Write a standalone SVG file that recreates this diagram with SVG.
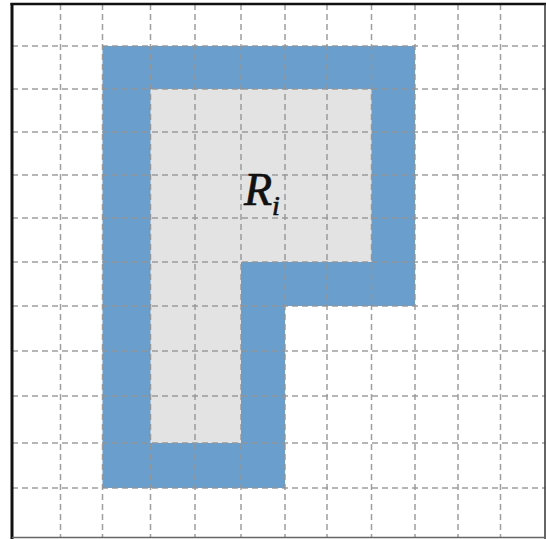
<svg xmlns="http://www.w3.org/2000/svg" width="546" height="539" viewBox="0 0 546 539">
<style>
.blue{fill:#6a9ecd}
.gray{fill:#e3e3e3}
.grid line{stroke:#959595;stroke-width:1.5;stroke-dasharray:6 4;opacity:0.9}
.lbl{font-family:"Liberation Serif","DejaVu Serif",serif;font-style:italic;fill:#111;stroke:#111;stroke-width:0.7}
</style>
<rect x="0" y="0" width="546" height="539" fill="#fff"/>
<g id="region">
<rect class="blue" x="102.5" y="46" width="312.5" height="442"/>
<rect class="gray" x="150.5" y="89" width="221" height="173"/>
<rect class="gray" x="150.5" y="262" width="90.5" height="181"/>
<rect fill="#fff" x="285" y="306" width="130.5" height="182.5"/>
<rect fill="#fff" x="415" y="46" width="131" height="493"/>
</g>
<g id="grid" class="grid">
<line x1="60.5" y1="4" x2="60.5" y2="537"/>
<line x1="102.5" y1="4" x2="102.5" y2="537"/>
<line x1="150.5" y1="4" x2="150.5" y2="537"/>
<line x1="195" y1="4" x2="195" y2="537"/>
<line x1="241" y1="4" x2="241" y2="537"/>
<line x1="285" y1="4" x2="285" y2="537"/>
<line x1="327" y1="4" x2="327" y2="537"/>
<line x1="371.5" y1="4" x2="371.5" y2="537"/>
<line x1="415" y1="4" x2="415" y2="537"/>
<line x1="458" y1="4" x2="458" y2="537"/>
<line x1="500.5" y1="4" x2="500.5" y2="537"/>
<line x1="12" y1="46" x2="545" y2="46"/>
<line x1="12" y1="89" x2="545" y2="89"/>
<line x1="12" y1="132" x2="545" y2="132"/>
<line x1="12" y1="175" x2="545" y2="175"/>
<line x1="12" y1="218" x2="545" y2="218"/>
<line x1="12" y1="262" x2="545" y2="262"/>
<line x1="12" y1="306" x2="545" y2="306"/>
<line x1="12" y1="351" x2="545" y2="351"/>
<line x1="12" y1="396" x2="545" y2="396"/>
<line x1="12" y1="443" x2="545" y2="443"/>
<line x1="12" y1="488" x2="545" y2="488"/>
</g>
<g id="frame">
<line x1="12" y1="3" x2="12" y2="539" stroke="#111" stroke-width="3"/>
<line x1="10.5" y1="4" x2="546" y2="4" stroke="#111" stroke-width="2.5"/>
<line x1="545" y1="4" x2="545" y2="539" stroke="#333" stroke-width="1.5"/>
<line x1="12" y1="537.5" x2="546" y2="537.5" stroke="#666" stroke-width="1.5"/>
</g>
<g id="label">
<text class="lbl" x="244" y="205" font-size="46">R<tspan font-size="28" dy="10">i</tspan></text>
</g>
</svg>
